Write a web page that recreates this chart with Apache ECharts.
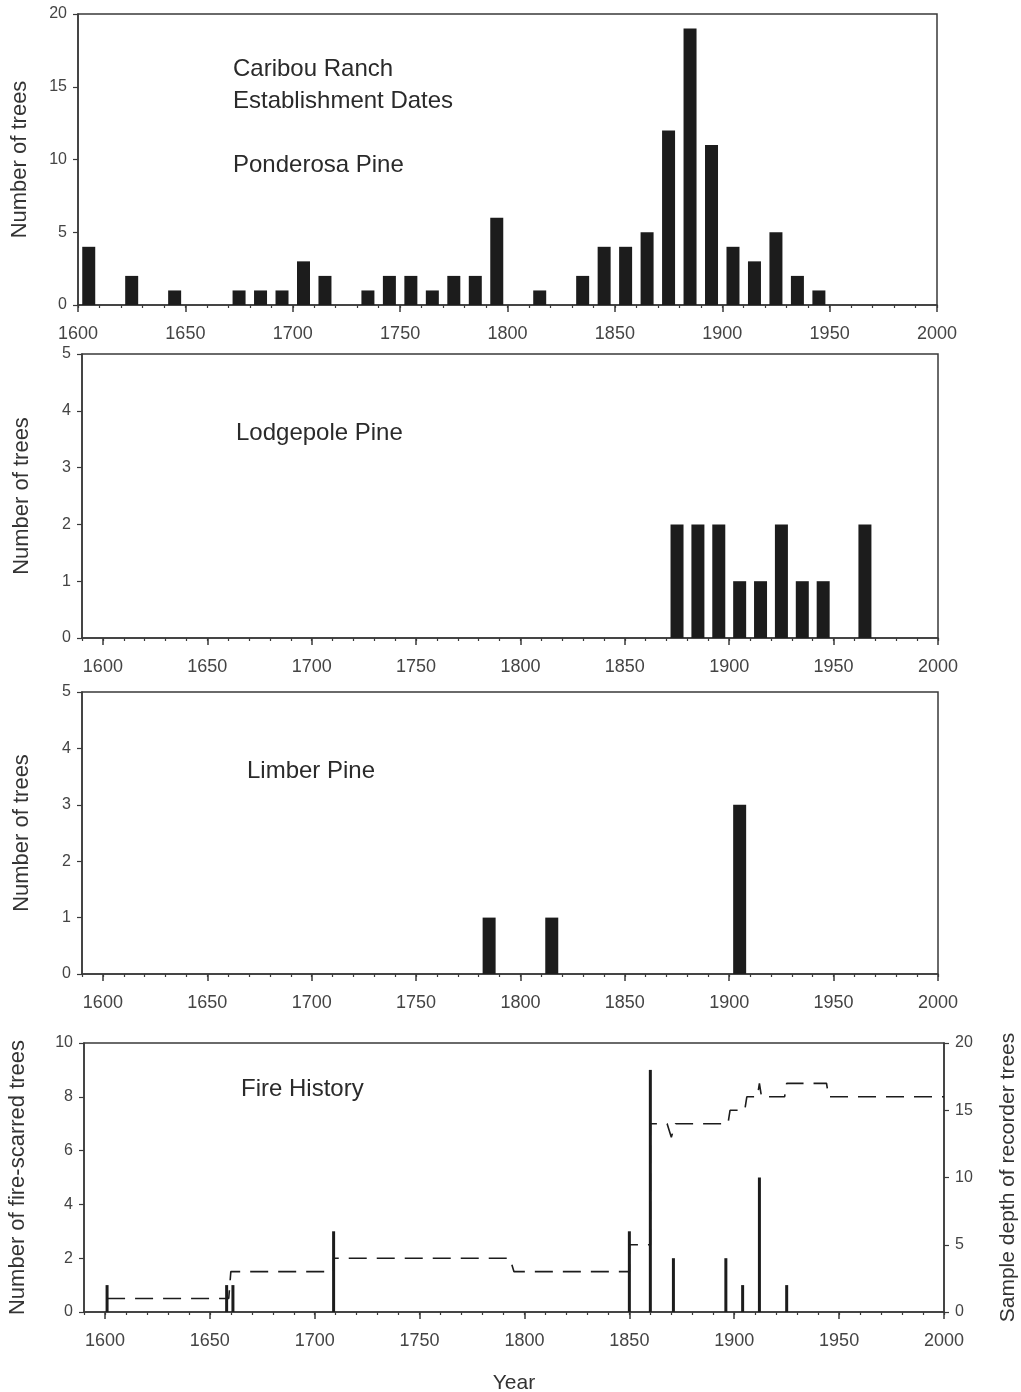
<!DOCTYPE html>
<html>
<head>
<meta charset="utf-8">
<script src="https://cdn.jsdelivr.net/npm/echarts@6/dist/echarts.min.js"></script>
<style>
html, body { margin: 0; padding: 0; background: #fff; }
#main { width: 1021px; height: 1392px; }
</style>
</head>
<body>
<div id="main"></div>
<script>
// decade bins, bar drawn at the middle of each decade
var ponderosaYears = [1605, 1625, 1645, 1675, 1685, 1695, 1705, 1715, 1735, 1745, 1755, 1765, 1775, 1785, 1795,
                      1815, 1835, 1845, 1855, 1865, 1875, 1885, 1895, 1905, 1915, 1925, 1935, 1945];
var ponderosaCounts = [4, 2, 1, 1, 1, 1, 3, 2, 1, 2, 2, 1, 2, 2, 6,
                       1, 2, 4, 4, 5, 12, 19, 11, 4, 3, 5, 2, 1];

var lodgepoleYears = [1875, 1885, 1895, 1905, 1915, 1925, 1935, 1945, 1965];
var lodgepoleCounts = [2, 2, 2, 1, 1, 2, 1, 1, 2];

var limberYears = [1785, 1815, 1905];
var limberCounts = [1, 1, 3];

// fire scars by year
var fireYears = [1601, 1658, 1661, 1709, 1850, 1860, 1871, 1896, 1904, 1912, 1925];
var fireCounts = [1, 1, 1, 3, 3, 9, 2, 2, 1, 5, 1];

// sample depth (recorder trees), traced vertex by vertex
var depthYears = [1601, 1659, 1660, 1709, 1709, 1793, 1795, 1850, 1850, 1860, 1860, 1868, 1870, 1872,
                  1897, 1898, 1905, 1906, 1911, 1912, 1913, 1924, 1925, 1944, 1945, 2000];
var depthValues = [1, 1, 3, 3, 4, 4, 3, 3, 5, 5, 14, 14, 13, 14,
                   14, 15, 15, 16, 16, 17, 16, 16, 17, 17, 16, 16];

var majorYears = [1600, 1650, 1700, 1750, 1800, 1850, 1900, 1950, 2000];

function pairs(xs, ys) {
  return xs.map(function (x, i) { return [x, ys[i]]; });
}

var ink = '#1c1c1c';
var axisCol = '#3a3a3a';
var labelCol = '#444';
var fontFam = '"Liberation Sans", Arial, sans-serif';

var grids = [
  { left: 78, right: 84, top: 14, height: 291 },
  { left: 82, right: 83, top: 354, height: 284 },
  { left: 82, right: 83, top: 692, height: 282 },
  { left: 84, right: 77, top: 1043, height: 269 }
];
var xMins = [1600, 1590, 1590, 1590];

var xAxes = [];
grids.forEach(function (g, i) {
  xAxes.push({
    type: 'value', gridIndex: i, min: xMins[i], max: 2000, position: 'bottom',
    axisLine: { show: true, lineStyle: { color: axisCol, width: 1.5 } },
    axisTick: { show: true, customValues: majorYears, length: 7, lineStyle: { color: axisCol, width: 1.5 } },
    axisLabel: {
      show: true, customValues: majorYears, margin: 20, fontSize: 18, color: labelCol, fontFamily: fontFam,
      formatter: function (v) { return String(v); }
    },
    splitLine: { show: false }
  });
  xAxes.push({
    type: 'value', gridIndex: i, min: xMins[i], max: 2000, interval: 10, position: 'bottom',
    axisLine: { show: false },
    axisTick: { show: true, length: 3, lineStyle: { color: axisCol, width: 1.2 } },
    axisLabel: { show: false },
    splitLine: { show: false }
  });
});
xAxes[6].name = 'Year';
xAxes[6].nameLocation = 'middle';
xAxes[6].nameGap = 61;
xAxes[6].nameTextStyle = { fontSize: 21, color: '#333', fontFamily: fontFam };

function yAx(gi, max, interval, name, gap, pos, nameSize) {
  return {
    type: 'value', gridIndex: gi, min: 0, max: max, interval: interval, position: pos || 'left',
    name: name, nameLocation: 'middle', nameGap: gap, nameRotate: 90,
    nameTextStyle: { fontSize: nameSize || 22, color: '#333', fontFamily: fontFam },
    axisLine: { show: true, lineStyle: { color: axisCol, width: 1.5 } },
    axisTick: { show: true, length: 5, lineStyle: { color: axisCol, width: 1.2 } },
    axisLabel: { fontSize: 16, color: labelCol, margin: 11, fontFamily: fontFam },
    splitLine: { show: false }
  };
}

var yAxes = [
  yAx(0, 20, 5, 'Number of trees', 47),
  yAx(1, 5, 1, 'Number of trees', 49),
  yAx(2, 5, 1, 'Number of trees', 49),
  yAx(3, 10, 2, 'Number of fire-scarred trees', 55),
  yAx(3, 20, 5, 'Sample depth of recorder trees', 54, 'right', 21)
];

function barSeries(xi, yi, data, w) {
  return {
    type: 'bar', xAxisIndex: xi, yAxisIndex: yi, data: data, barWidth: w,
    itemStyle: { color: ink }, silent: true
  };
}

function label(text, x, y) {
  return {
    type: 'text', left: x, top: y,
    style: { text: text, fontSize: 24, fill: '#2a2a2a', fontFamily: fontFam }
  };
}

var chart = echarts.init(document.getElementById('main'));
chart.setOption({
  backgroundColor: '#fff',
  animation: false,
  grid: grids.map(function (g) {
    return Object.assign({
      show: true, borderColor: axisCol, borderWidth: 1.5, backgroundColor: 'transparent',
      containLabel: false, outerBoundsMode: 'none'
    }, g);
  }),
  xAxis: xAxes,
  yAxis: yAxes,
  graphic: [
    label('Caribou Ranch', 233, 57),
    label('Establishment Dates', 233, 89),
    label('Ponderosa Pine', 233, 153),
    label('Lodgepole Pine', 236, 421),
    label('Limber Pine', 247, 759),
    label('Fire History', 241, 1077)
  ],
  series: [
    barSeries(0, 0, pairs(ponderosaYears, ponderosaCounts), 13),
    barSeries(2, 1, pairs(lodgepoleYears, lodgepoleCounts), 13),
    barSeries(4, 2, pairs(limberYears, limberCounts), 13),
    barSeries(6, 3, pairs(fireYears, fireCounts), 3),
    {
      type: 'line', xAxisIndex: 6, yAxisIndex: 4, data: pairs(depthYears, depthValues),
      symbol: 'none', silent: true,
      lineStyle: { color: ink, width: 1.6, type: [18, 10] }
    }
  ]
});
</script>
</body>
</html>
